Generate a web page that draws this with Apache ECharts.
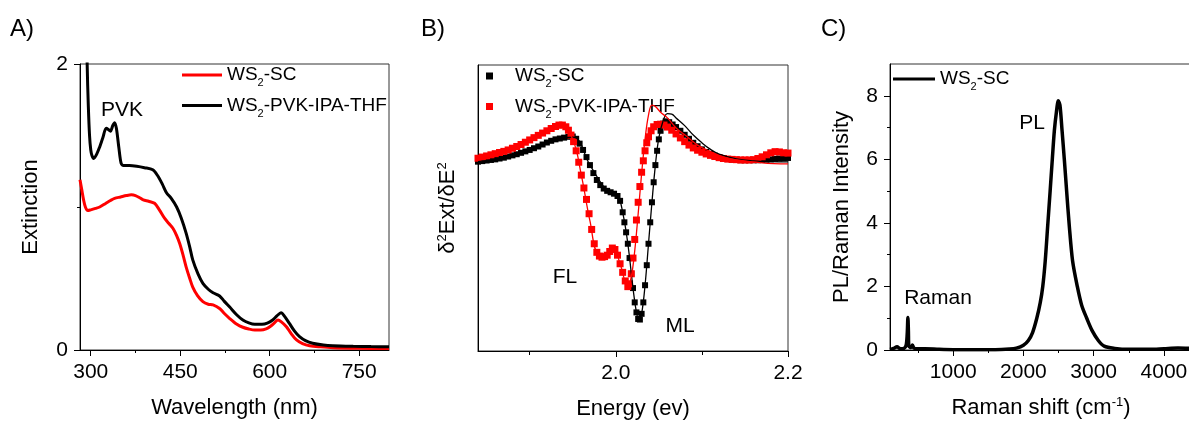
<!DOCTYPE html>
<html>
<head>
<meta charset="utf-8">
<script src="https://cdn.jsdelivr.net/npm/echarts@6/dist/echarts.min.js"></script>
<style>
html,body{margin:0;padding:0;background:#fff;}
#c{width:1189px;height:421px;}
</style>
</head>
<body>
<div id="c"></div>
<script>
// ---------- Panel A: extinction spectra (wavelength nm, extinction) ----------
const extSC = [[282,1.19],[285,1.12],[288,1.05],[291,1.0],[295,0.975],[300,0.98],[308,0.99],[315,1.0],[325,1.025],[333,1.045],[340,1.06],[350,1.07],[360,1.08],[368,1.085],[375,1.08],[382,1.065],[388,1.05],[397,1.04],[407,1.026],[415,0.98],[424,0.92],[431,0.885],[438,0.85],[444,0.8],[449,0.746],[455,0.66],[460,0.58],[466,0.5],[471,0.44],[479,0.38],[488,0.338],[497,0.32],[505,0.315],[516,0.29],[524,0.255],[533,0.22],[545,0.18],[555,0.159],[565,0.147],[575,0.14],[585,0.14],[594,0.148],[602,0.168],[608,0.19],[614,0.21],[620,0.195],[628,0.163],[636,0.115],[645,0.07],[655,0.045],[667,0.03],[685,0.022],[706,0.016],[750,0.012],[800,0.01]];
const extPVK = [[292,2.6],[294,2.0],[296,1.7],[298,1.5],[300,1.4],[302,1.36],[305,1.34],[310,1.37],[315,1.42],[320,1.48],[326,1.55],[330,1.54],[333,1.53],[337,1.57],[340,1.59],[343,1.55],[347,1.42],[351,1.305],[355,1.29],[365,1.29],[377,1.285],[390,1.275],[404,1.26],[412,1.22],[420,1.16],[427,1.10],[435,1.06],[444,1.0],[452,0.92],[460,0.816],[466,0.72],[471,0.63],[480,0.53],[488,0.466],[497,0.425],[505,0.40],[516,0.378],[524,0.34],[533,0.30],[545,0.245],[555,0.21],[565,0.19],[575,0.18],[587,0.18],[596,0.188],[605,0.21],[612,0.238],[619,0.26],[625,0.235],[633,0.186],[642,0.13],[650,0.093],[660,0.065],[672,0.047],[690,0.035],[706,0.03],[740,0.026],[770,0.024],[800,0.023]];
const aXMajor = [300,450,600,750];
const aXMinor = [375,525,675];
const aYMajor = [0,2];
const aYMinor = [1];

// ---------- Panel B: second derivative (energy eV, arbitrary units) ----------
const d2SC = [[1.840,66.2],[1.845,66.4],[1.850,66.6],[1.855,66.8],[1.860,67.0],[1.865,67.3],[1.870,67.6],[1.875,68.0],[1.880,68.4],[1.885,68.8],[1.890,69.3],[1.895,69.8],[1.900,70.3],[1.905,70.9],[1.910,71.5],[1.915,72.2],[1.920,72.9],[1.925,73.5],[1.930,74.0],[1.935,74.3],[1.940,74.6],[1.945,74.9],[1.950,75.0],[1.954,74.2],[1.958,72.5],[1.962,70.3],[1.966,67.8],[1.970,65.0],[1.974,62.2],[1.978,59.8],[1.982,58.0],[1.986,56.8],[1.990,56.0],[1.994,55.5],[1.998,55.0],[2.002,54.2],[2.005,52.5],[2.008,48.5],[2.010,45.0],[2.012,41.5],[2.014,37.5],[2.016,32.5],[2.018,27.0],[2.020,22.0],[2.022,17.0],[2.024,13.5],[2.026,11.2],[2.028,11.0],[2.030,13.0],[2.032,17.0],[2.034,23.0],[2.036,30.0],[2.038,37.5],[2.040,45.0],[2.042,52.0],[2.044,59.0],[2.046,65.0],[2.048,70.0],[2.050,74.0],[2.052,77.0],[2.055,79.5],[2.058,80.3],[2.062,80.0],[2.066,79.2],[2.070,78.3],[2.075,77.0],[2.080,75.6],[2.085,74.2],[2.090,72.8],[2.095,71.6],[2.100,70.5],[2.105,69.6],[2.110,68.9],[2.115,68.3],[2.120,67.8],[2.125,67.4],[2.130,67.1],[2.135,66.9],[2.140,66.8],[2.145,66.7],[2.150,66.7],[2.155,66.7],[2.160,66.7],[2.165,66.7],[2.170,66.8],[2.175,66.9],[2.180,67.0],[2.185,67.2],[2.190,67.3],[2.195,67.4],[2.200,67.5]];
const d2PVK = [[1.840,67.4],[1.845,67.8],[1.850,68.2],[1.855,68.6],[1.860,69.0],[1.865,69.4],[1.870,69.8],[1.875,70.3],[1.880,70.9],[1.885,71.5],[1.890,72.2],[1.895,73.0],[1.900,73.8],[1.905,74.6],[1.910,75.4],[1.915,76.2],[1.920,77.0],[1.925,77.8],[1.930,78.5],[1.934,79.0],[1.938,79.0],[1.942,78.4],[1.945,77.2],[1.948,75.5],[1.951,73.2],[1.954,70.0],[1.957,66.0],[1.960,61.5],[1.963,57.0],[1.966,53.0],[1.969,48.0],[1.972,42.5],[1.975,37.5],[1.978,34.5],[1.981,33.2],[1.984,32.8],[1.987,33.0],[1.990,33.5],[1.993,34.8],[1.996,36.0],[1.999,35.5],[2.002,33.5],[2.005,30.5],[2.008,27.5],[2.011,24.5],[2.014,22.5],[2.016,23.5],[2.018,27.0],[2.020,32.5],[2.022,39.0],[2.024,45.8],[2.026,52.0],[2.028,57.5],[2.030,62.5],[2.032,66.5],[2.034,70.0],[2.036,72.8],[2.038,74.9],[2.041,77.0],[2.044,78.4],[2.048,79.2],[2.052,79.3],[2.056,79.0],[2.060,78.3],[2.065,77.2],[2.070,75.9],[2.075,74.5],[2.080,73.2],[2.085,72.0],[2.090,71.0],[2.095,70.2],[2.100,69.5],[2.105,68.9],[2.110,68.4],[2.115,68.0],[2.120,67.6],[2.125,67.3],[2.130,67.1],[2.135,67.0],[2.140,66.9],[2.145,66.8],[2.150,66.8],[2.155,66.8],[2.160,66.9],[2.165,67.3],[2.170,67.9],[2.175,68.6],[2.180,69.3],[2.185,69.7],[2.190,69.6],[2.195,69.3],[2.200,69.2]];
const fitSC = [[1.840,66.2],[1.880,68.4],[1.920,72.9],[1.950,74.8],[1.970,65.0],[1.990,56.0],[2.002,54.2],[2.008,48.5],[2.014,37.5],[2.020,22.0],[2.024,13.5],[2.027,11.0],[2.030,13.0],[2.034,23.0],[2.038,37.5],[2.042,52.0],[2.046,65.0],[2.050,74.5],[2.055,80.5],[2.060,83.0],[2.065,82.8],[2.070,81.5],[2.080,78.8],[2.090,75.5],[2.100,72.8],[2.110,70.5],[2.120,68.8],[2.140,67.2],[2.160,66.5],[2.180,66.2],[2.200,66.1]];
const fitPVK = [[1.840,67.4],[1.880,70.9],[1.920,77.0],[1.936,79.0],[1.950,74.0],[1.960,61.5],[1.970,45.5],[1.980,33.8],[1.990,33.5],[1.997,36.0],[2.005,30.5],[2.014,22.5],[2.018,26.0],[2.022,35.0],[2.026,48.0],[2.030,62.0],[2.034,74.0],[2.038,82.5],[2.042,86.0],[2.046,85.5],[2.052,83.5],[2.060,81.5],[2.070,78.0],[2.083,74.9],[2.095,72.0],[2.110,69.7],[2.125,67.8],[2.141,66.8],[2.170,65.8],[2.200,65.4]];
const bXMajor = [2.0,2.2];
const bXMinor = [1.9,2.1];

// ---------- Panel C: PL / Raman (Raman shift cm-1, intensity) ----------
const plSC = [[100,0.02],[150,0.05],[200,0.1],[250,0.04],[300,0.05],[330,0.15],[345,0.5],[355,1.02],[362,0.6],[368,0.12],[400,0.08],[420,0.16],[440,0.06],[500,0.04],[600,0.04],[800,0.02],[1000,0.01],[1200,0.01],[1400,0.01],[1600,0.01],[1800,0.03],[1900,0.06],[2000,0.15],[2070,0.3],[2130,0.55],[2190,1.0],[2240,1.5],[2275,2.0],[2310,2.8],[2345,3.9],[2380,5.0],[2411,6.0],[2440,6.9],[2470,7.5],[2497,7.84],[2520,7.7],[2550,6.9],[2582,6.0],[2615,5.0],[2653,3.9],[2700,2.8],[2767,2.0],[2830,1.4],[2901,1.0],[2980,0.6],[3066,0.3],[3150,0.12],[3300,0.05],[3500,0.02],[3800,0.02],[4000,0.04],[4200,0.06],[4400,0.05]];
const cXMajor = [1000,2000,3000,4000];
const cXMinor = [500,1500,2500,3500];
const cYMajor = [0,2,4,6,8];
const cYMinor = [1,3,5,7];

const legendText = {
  a_sc:'WS{sub|2}-SC', a_pvk:'WS{sub|2}-PVK-IPA-THF',
  b_sc:'WS{sub|2}-SC', b_pvk:'WS{sub|2}-PVK-IPA-THF',
  c_sc:'WS{sub|2}-SC'
};

const FONT = 'Liberation Sans, Arial, sans-serif';
const subRich = {sub:{fontSize:11, verticalAlign:'middle', padding:[16,0,0,0], fontFamily:FONT, color:'#000'}};
const supRich = {sup:{fontSize:13, verticalAlign:'top', lineHeight:13, fontFamily:FONT, color:'#000'}};

function mainX(grid, min, max, ticks, fmt, name, gap, rich){
  return {gridIndex:grid, type:'value', min:min, max:max, position:'bottom',
    axisLine:{show:true, onZero:false, lineStyle:{color:'#000', width:1}},
    axisTick:{show:true, inside:false, length:6, customValues:ticks, lineStyle:{color:'#000'}},
    axisLabel:{show:true, customValues:ticks, formatter:fmt, fontSize:21, color:'#000', fontFamily:FONT, margin:12},
    splitLine:{show:false}, name:name, nameLocation:'middle', nameGap:gap,
    nameTextStyle:{fontSize:22, color:'#000', fontFamily:FONT, lineHeight:24, rich:rich||{}}};
}
function minorX(grid, min, max, ticks, len){
  return {gridIndex:grid, type:'value', min:min, max:max, position:'bottom',
    axisLine:{show:false, onZero:false}, axisTick:{show:true, length:len, customValues:ticks, lineStyle:{color:'#000'}},
    axisLabel:{show:false}, splitLine:{show:false}};
}
function mainY(grid, min, max, ticks, name, gap, rich, showLab){
  return {gridIndex:grid, type:'value', min:min, max:max, position:'left',
    axisLine:{show:true, onZero:false, lineStyle:{color:'#000', width:1}},
    axisTick:{show:ticks.length>0, length:6, customValues:ticks.length?ticks:undefined, lineStyle:{color:'#000'}},
    axisLabel:{show:showLab, customValues:ticks.length?ticks:undefined, fontSize:21, color:'#000', fontFamily:FONT, margin:12},
    splitLine:{show:false}, name:name, nameLocation:'middle', nameGap:gap, nameRotate:90,
    nameTextStyle:{fontSize:22, color:'#000', fontFamily:FONT, lineHeight:24, rich:rich||{}}};
}
function minorY(grid, min, max, ticks){
  return {gridIndex:grid, type:'value', min:min, max:max, position:'left',
    axisLine:{show:false, onZero:false}, axisTick:{show:true, length:3, customValues:ticks, lineStyle:{color:'#000'}},
    axisLabel:{show:false}, splitLine:{show:false}};
}

const gridStyle = {show:true, borderColor:'#333', borderWidth:1, backgroundColor:'transparent', containLabel:false, outerBoundsMode:'none'};

const option = {
  animation:false,
  textStyle:{fontFamily:FONT},
  grid:[
    Object.assign({left:80, top:64, width:309, height:286}, gridStyle),
    Object.assign({left:478, top:65, width:310, height:286}, gridStyle),
    Object.assign({left:890, top:64, width:302, height:286}, gridStyle)
  ],
  xAxis:[
    mainX(0, 282, 800, aXMajor, v=>String(v), 'Wavelength (nm)', 46),
    minorX(0, 282, 800, aXMinor, 3),
    mainX(1, 1.84, 2.2, bXMajor, v=>Number(v).toFixed(1), 'Energy (ev)', 46),
    minorX(1, 1.84, 2.2, bXMinor, 4),
    mainX(2, 100, 4400, cXMajor, v=>String(v), 'Raman shift (cm{sup|-1})', 46, supRich),
    minorX(2, 100, 4400, cXMinor, 3)
  ],
  yAxis:[
    mainY(0, 0, 2, aYMajor, 'Extinction', 37, null, true),
    minorY(0, 0, 2, aYMinor),
    mainY(1, 0, 100, [], 'δ{sup|2}Ext/δE{sup|2}', 18, supRich, false),
    mainY(2, 0, 9, cYMajor, 'PL/Raman Intensity', 36, null, true),
    minorY(2, 0, 9, cYMinor)
  ],
  legend:[
    {orient:'vertical', left:182, top:65, padding:0, itemWidth:40, itemHeight:3, itemGap:7, icon:'rect',
     data:[{name:'a_sc'},{name:'a_pvk'}], selectedMode:false,
     formatter:n=>legendText[n], textStyle:{fontSize:19, color:'#000', fontFamily:FONT, lineHeight:20, rich:subRich}},
    {orient:'vertical', left:486, top:66, padding:0, itemWidth:7, itemHeight:7, itemGap:7, icon:'rect',
     data:[{name:'b_sc'},{name:'b_pvk'}], selectedMode:false,
     formatter:n=>legendText[n], textStyle:{fontSize:19, color:'#000', fontFamily:FONT, lineHeight:20, padding:[0,0,0,17], rich:subRich}},
    {orient:'vertical', left:893, top:69, padding:0, itemWidth:42, itemHeight:3, icon:'rect',
     data:[{name:'c_sc'}], selectedMode:false,
     formatter:n=>legendText[n], textStyle:{fontSize:19, color:'#000', fontFamily:FONT, lineHeight:20, rich:subRich}}
  ],
  series:[
    {name:'a_sc', type:'line', xAxisIndex:0, yAxisIndex:0, data:extSC, showSymbol:false, symbol:'none', smooth:0.3,
     lineStyle:{color:'#ff0000', width:3}, itemStyle:{color:'#ff0000'}, clip:true, z:3},
    {name:'a_pvk', type:'line', xAxisIndex:0, yAxisIndex:0, data:extPVK, showSymbol:false, symbol:'none', smooth:0.3,
     lineStyle:{color:'#000', width:3}, itemStyle:{color:'#000'}, clip:true, z:4},
    {name:'b_sc', type:'scatter', xAxisIndex:2, yAxisIndex:2, data:d2SC, symbol:'rect', symbolSize:6,
     itemStyle:{color:'#000', opacity:1}, clip:true, z:3},
    {name:'b_pvk', type:'scatter', xAxisIndex:2, yAxisIndex:2, data:d2PVK, symbol:'rect', symbolSize:7,
     itemStyle:{color:'#ff0000', opacity:1}, clip:true, z:4},
    {name:'b_fit_sc', type:'line', xAxisIndex:2, yAxisIndex:2, data:fitSC, showSymbol:false, symbol:'none', smooth:0.4,
     lineStyle:{color:'#000', width:1.3}, clip:true, z:5},
    {name:'b_fit_pvk', type:'line', xAxisIndex:2, yAxisIndex:2, data:fitPVK, showSymbol:false, symbol:'none', smooth:0.4,
     lineStyle:{color:'#ff0000', width:1.3}, clip:true, z:6},
    {name:'c_sc', type:'line', xAxisIndex:4, yAxisIndex:3, data:plSC, showSymbol:false, symbol:'none', smooth:0.3,
     lineStyle:{color:'#000', width:3.5}, itemStyle:{color:'#000'}, clip:true, z:3}
  ],
  graphic:[
    {type:'text', left:10, top:17, style:{text:'A)', font:'24px '+FONT, fill:'#000'}},
    {type:'text', left:421, top:17, style:{text:'B)', font:'24px '+FONT, fill:'#000'}},
    {type:'text', left:821, top:17, style:{text:'C)', font:'24px '+FONT, fill:'#000'}},
    {type:'text', x:122, y:110, style:{text:'PVK', font:'21px '+FONT, fill:'#000', align:'center', verticalAlign:'middle'}},
    {type:'text', x:565, y:277, style:{text:'FL', font:'21px '+FONT, fill:'#000', align:'center', verticalAlign:'middle'}},
    {type:'text', x:680, y:326, style:{text:'ML', font:'21px '+FONT, fill:'#000', align:'center', verticalAlign:'middle'}},
    {type:'text', x:1032, y:123, style:{text:'PL', font:'21px '+FONT, fill:'#000', align:'center', verticalAlign:'middle'}},
    {type:'text', x:938, y:298, style:{text:'Raman', font:'21px '+FONT, fill:'#000', align:'center', verticalAlign:'middle'}}
  ]
};

const chart = echarts.init(document.getElementById('c'), null, {renderer:'canvas'});
chart.setOption(option);
</script>
</body>
</html>
